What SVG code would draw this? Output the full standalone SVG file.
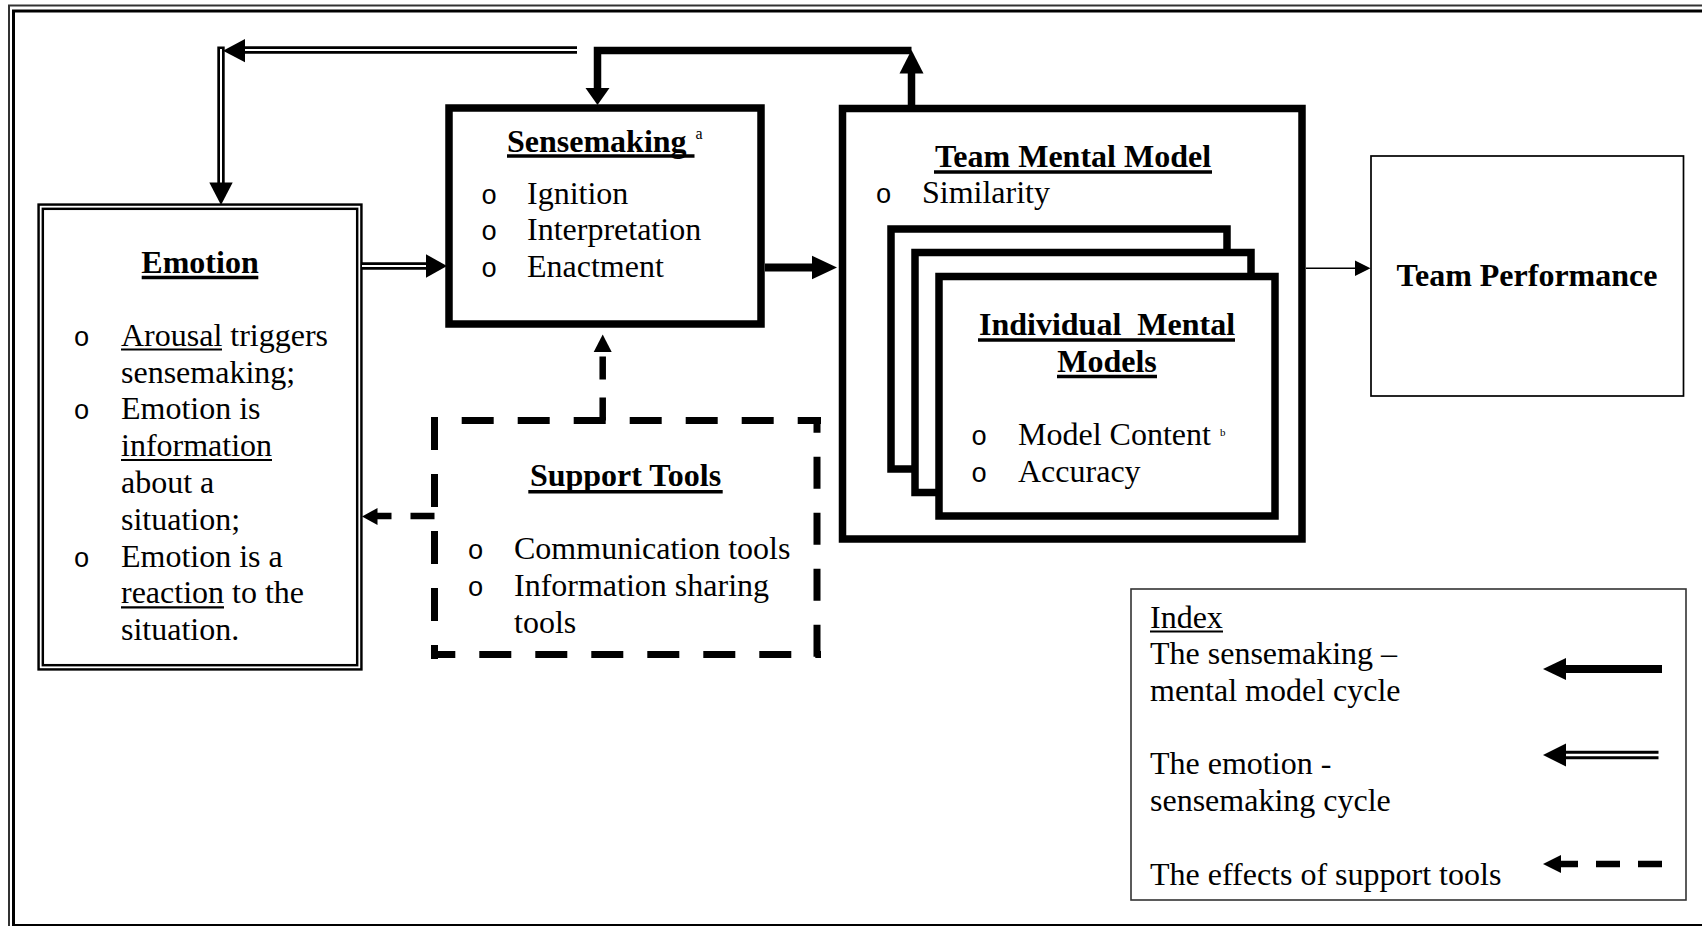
<svg xmlns="http://www.w3.org/2000/svg" width="1702" height="926" viewBox="0 0 1702 926">
<style>
text{font-family:"Liberation Serif","Times New Roman",serif;font-size:32px;fill:#000}
.b{font-weight:bold}
.m{text-anchor:middle}
.bul{font-family:"Liberation Mono","Courier New",monospace;font-size:27px;text-anchor:middle}
.ul{stroke:#000;stroke-width:2.2}
.ulb{stroke:#000;stroke-width:3.4}
.thick{fill:none;stroke:#000;stroke-width:7.5;stroke-linejoin:miter}
.box{fill:#fff;stroke:#000;stroke-width:7.5}
.dbl{fill:none;stroke:#000;stroke-width:7.4}
.dblw{fill:none;stroke:#fff;stroke-width:2}
.dash{fill:none;stroke:#000;stroke-width:7}
.head{fill:#000;stroke:none}
</style>

<g id="frame" fill="none">
<path d="M9,926 V5.5 H1702" stroke="#333" stroke-width="2"/>
<path d="M13.5,926 V11 H1702" stroke="#000" stroke-width="3"/>
<path d="M12,925 H1702" stroke="#000" stroke-width="2"/>
</g>

<g id="emotion">
<rect x="40.7" y="206.7" width="318.6" height="460.6" fill="#fff" stroke="#000" stroke-width="6.7"/>
<rect x="40.7" y="206.7" width="318.6" height="460.6" fill="none" stroke="#fff" stroke-width="1.8"/>
<text class="b m" x="200" y="273">Emotion</text>
<line class="ulb" x1="141.7" y1="277.5" x2="258.3" y2="277.5"/>
<text class="bul" x="81.7" y="345.7">o</text>
<text class="bul" x="81.7" y="419.3">o</text>
<text class="bul" x="81.7" y="566.5">o</text>
<text x="121" y="345.7">Arousal triggers</text>
<text x="121" y="382.5">sensemaking;</text>
<text x="121" y="419.3">Emotion is</text>
<text x="121" y="456.1">information</text>
<text x="121" y="492.9">about a</text>
<text x="121" y="529.7">situation;</text>
<text x="121" y="566.5">Emotion is a</text>
<text x="121" y="603.3">reaction to the</text>
<text x="121" y="640.1">situation.</text>
<line class="ul" x1="121" y1="349.5" x2="222" y2="349.5"/>
<line class="ul" x1="121" y1="460" x2="272" y2="460"/>
<line class="ul" x1="121" y1="607.3" x2="224" y2="607.3"/>
</g>

<g id="sensemaking">
<rect class="box" x="449" y="108" width="312" height="216"/>
<text class="b" x="507" y="152">Sensemaking</text>
<line class="ulb" x1="507" y1="156" x2="694.5" y2="156"/>
<text x="695.5" y="138.5" style="font-size:16px">a</text>
<text class="bul" x="489" y="203.5">o</text>
<text class="bul" x="489" y="240.3">o</text>
<text class="bul" x="489" y="277.1">o</text>
<text x="527" y="203.5">Ignition</text>
<text x="527" y="240.3">Interpretation</text>
<text x="527" y="277.1">Enactment</text>
</g>

<g id="team-mental-model">
<rect class="box" x="842.5" y="108.5" width="459.5" height="430.5"/>
<text class="b m" x="1073" y="167">Team Mental Model</text>
<line class="ulb" x1="934" y1="172" x2="1212" y2="172"/>
<text class="bul" x="883.7" y="203.3">o</text>
<text x="922" y="203.3">Similarity</text>
</g>

<g id="individual-mental-models">
<rect class="box" x="891" y="229" width="336" height="240"/>
<rect class="box" x="915" y="252.5" width="336" height="240"/>
<rect class="box" x="939" y="276.5" width="336" height="239.5"/>
<text class="b m" x="1107" y="335" style="white-space:pre">Individual  Mental</text>
<line class="ulb" x1="978" y1="340" x2="1235" y2="340"/>
<text class="b m" x="1107" y="372">Models</text>
<line class="ulb" x1="1057" y1="376.5" x2="1157" y2="376.5"/>
<text class="bul" x="979" y="445">o</text>
<text class="bul" x="979" y="481.8">o</text>
<text x="1018" y="445">Model Content</text>
<text x="1220" y="435.5" style="font-size:11px">b</text>
<text x="1018" y="481.8">Accuracy</text>
</g>

<g id="team-performance">
<rect x="1371" y="156" width="312.5" height="240" fill="#fff" stroke="#000" stroke-width="1.7"/>
<text class="b m" x="1527" y="286">Team Performance</text>
</g>

<g id="support-tools">
<path class="dash" d="M431,420.5 H821" stroke-dasharray="32 24" stroke-dashoffset="25.3"/>
<path class="dash" d="M434.5,417 V659" stroke-dasharray="33 24"/>
<path class="dash" d="M431,654.5 H821" stroke-dasharray="32 24" stroke-dashoffset="7.7"/>
<path class="dash" d="M817,417 V659" stroke-dasharray="32 24" stroke-dashoffset="16.3"/>
<text class="b m" x="625.5" y="486">Support Tools</text>
<line class="ulb" x1="528.3" y1="491.7" x2="722.7" y2="491.7"/>
<text class="bul" x="475.5" y="559.3">o</text>
<text class="bul" x="475.5" y="596.1">o</text>
<text x="514" y="559.3">Communication tools</text>
<text x="514" y="596.1">Information sharing</text>
<text x="514" y="632.9">tools</text>
</g>

<g id="index">
<rect x="1131" y="589" width="555" height="311" fill="#fff" stroke="#333" stroke-width="1.6"/>
<text x="1150" y="628">Index</text>
<line class="ul" x1="1150" y1="631.5" x2="1223" y2="631.5"/>
<text x="1150" y="664">The sensemaking –</text>
<text x="1150" y="701">mental model cycle</text>
<text x="1150" y="774">The emotion -</text>
<text x="1150" y="811">sensemaking cycle</text>
<text x="1150" y="885">The effects of support tools</text>
<path class="thick" d="M1662,669 H1564" style="stroke-width:8"/>
<polygon class="head" points="1543,669 1566,658 1566,680"/>
<path class="dbl" d="M1658.5,755 H1563" style="stroke-width:8.5"/>
<path class="dblw" d="M1660,755 H1563" style="stroke-width:2.5"/>
<polygon class="head" points="1543,755 1566,743.5 1566,766.5"/>
<path class="dash" d="M1662,864 H1560" stroke-dasharray="24 18" style="stroke-width:6.5"/>
<polygon class="head" points="1543,864 1561,855 1561,873"/>
</g>

<g id="connectors">
<path class="dbl" d="M577,50 H244"/>
<path class="dblw" d="M578,50 H244"/>
<polygon class="head" points="223,50.7 245,39 245,62.3"/>
<path class="dbl" d="M221,46.5 V184"/>
<path class="dblw" d="M221,49 V184"/>
<polygon class="head" points="221,205 209.3,182.5 232.7,182.5"/>
<path class="dbl" d="M362,266 H427"/>
<path class="dblw" d="M362,266 H427"/>
<polygon class="head" points="447,266 426,254.3 426,277.7"/>
<path class="thick" d="M765,267.5 H813" style="stroke-width:8"/>
<polygon class="head" points="837,267.5 812,255.8 812,279.2"/>
<path class="thick" d="M911.5,105 V72"/>
<polygon class="head" points="911.5,50 899.5,73.5 923.5,73.5"/>
<path class="thick" d="M911.5,50.5 H597.5 V89"/>
<polygon class="head" points="597.5,105 585.5,88 609.5,88"/>
<path d="M1306,268.3 H1357" stroke="#000" stroke-width="1.5" fill="none"/>
<polygon class="head" points="1370.5,268.3 1355,260.6 1355,276"/>
<path class="dash" d="M602.7,420.5 V356.5" stroke-dasharray="23 18" style="stroke-width:6.5"/>
<polygon class="head" points="602.7,334.5 593.7,352 611.7,352"/>
<path class="dash" d="M434.5,516 H377" stroke-dasharray="24 19" style="stroke-width:6.5"/>
<polygon class="head" points="362,516.5 377.5,508 377.5,525"/>
</g>
</svg>
